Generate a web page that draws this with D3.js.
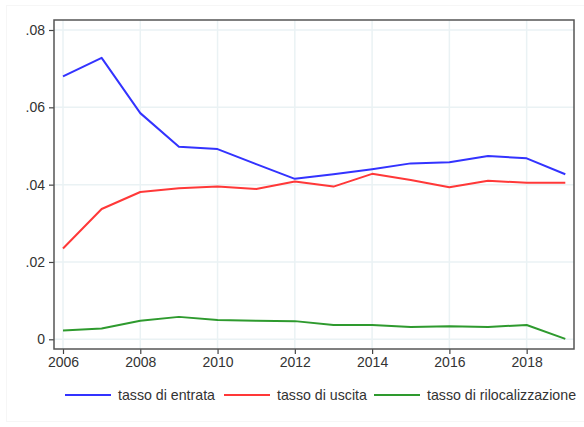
<!DOCTYPE html>
<html lang="en">
<head>
  <meta charset="UTF-8">
  <title>Tassi</title>
  <style>
    body { margin: 0; background: #fff; }
    svg text { font-family: "Liberation Sans", Arial, sans-serif; fill: #333; }
  </style>
</head>
<body>
  <svg id="svg" width="584" height="427"></svg>

  <script src="https://d3js.org/d3.v7.min.js"></script>
  <script>
    // data
    const years = [2006, 2007, 2008, 2009, 2010, 2011, 2012, 2013, 2014, 2015, 2016, 2017, 2018, 2019]
    const entrata = [0.0680, 0.0728, 0.0585, 0.0498, 0.0492, 0.0453, 0.0415, 0.0427, 0.0440, 0.0455, 0.0458, 0.0474, 0.0468, 0.0427]
    const uscita = [0.0235, 0.0337, 0.0381, 0.0391, 0.0395, 0.0389, 0.0408, 0.0395, 0.0428, 0.0412, 0.0393, 0.0410, 0.0405, 0.0405]
    const rilocalizzazione = [0.0023, 0.0028, 0.0048, 0.0058, 0.0050, 0.0048, 0.0047, 0.0037, 0.0037, 0.0032, 0.0034, 0.0032, 0.0037, 0.0001]
    const xTicks = [2006, 2008, 2010, 2012, 2014, 2016, 2018]
    const yTicks = [0, 0.02, 0.04, 0.06, 0.08]

    const series = [
      { label: 'tasso di entrata', values: entrata, color: '#3333ff' },
      { label: 'tasso di uscita', values: uscita, color: '#ff3838' },
      { label: 'tasso di rilocalizzazione', values: rilocalizzazione, color: '#2e9a2e' }
    ]

    const svg = d3.select('#svg')

    // faint outer border
    svg.append('rect')
      .attr('x', 6.5).attr('y', 5.5)
      .attr('width', 600).attr('height', 416)
      .attr('fill', 'none')
      .attr('stroke', '#f6f6f6')

    const box = { left: 54, right: 574, top: 20, bottom: 349 }

    const x = d3.scaleLinear()
      .domain([2006, 2019])
      .range([63, 565.3])

    const y = d3.scaleLinear()
      .domain([0, 0.08])
      .range([339.3, 30])

    // gridlines
    svg.append('g')
      .selectAll('line.vg')
      .data(xTicks)
      .join('line')
      .attr('x1', d => x(d)).attr('x2', d => x(d))
      .attr('y1', box.top).attr('y2', box.bottom)
      .attr('stroke', '#eaf2f4')
      .attr('stroke-width', 1.5)

    svg.append('g')
      .selectAll('line.hg')
      .data(yTicks)
      .join('line')
      .attr('x1', box.left).attr('x2', box.right)
      .attr('y1', d => y(d)).attr('y2', d => y(d))
      .attr('stroke', '#eaf2f4')
      .attr('stroke-width', 1.5)

    // axes
    const yAxis = d3.axisLeft(y)
      .tickValues(yTicks)
      .tickSize(5)
      .tickSizeOuter(0)
      .tickPadding(4)
      .tickFormat(d => d === 0 ? '0' : d3.format('.2f')(d).replace(/^0/, ''))

    const xAxis = d3.axisBottom(x)
      .tickValues(xTicks)
      .tickSize(5)
      .tickSizeOuter(0)
      .tickPadding(3)
      .tickFormat(d3.format('d'))

    const gy = svg.append('g')
      .attr('transform', `translate(${box.left},0)`)
      .call(yAxis)
    gy.select('.domain').remove()

    const gx = svg.append('g')
      .attr('transform', `translate(0,${box.bottom})`)
      .call(xAxis)
    gx.select('.domain').remove()

    svg.selectAll('.tick line').attr('stroke', '#444').attr('stroke-width', 1.2)
    svg.selectAll('.tick text')
      .attr('font-size', 14)
      .attr('font-family', '"Liberation Sans", Arial, sans-serif')
      .attr('fill', '#333')

    // frame
    svg.append('rect')
      .attr('x', box.left).attr('y', box.top)
      .attr('width', box.right - box.left)
      .attr('height', box.bottom - box.top)
      .attr('fill', 'none')
      .attr('stroke', '#555')
      .attr('stroke-width', 1.5)

    // lines
    const line = d3.line()
      .x((d, i) => x(years[i]))
      .y(d => y(d))

    svg.append('g')
      .selectAll('path')
      .data(series)
      .join('path')
      .attr('d', d => line(d.values))
      .attr('fill', 'none')
      .attr('stroke', d => d.color)
      .attr('stroke-width', 2)
      .attr('stroke-linejoin', 'round')

    // legend
    const legendX = [65, 224, 374]
    const legend = svg.append('g')
      .selectAll('g')
      .data(series)
      .join('g')
      .attr('transform', (d, i) => `translate(${legendX[i]},395)`)

    legend.append('line')
      .attr('x1', 0).attr('x2', 46)
      .attr('stroke', d => d.color)
      .attr('stroke-width', 2)

    legend.append('text')
      .attr('x', 53)
      .attr('dy', '0.35em')
      .attr('font-size', 14.2)
      .text(d => d.label)
  </script>
</body>
</html>
